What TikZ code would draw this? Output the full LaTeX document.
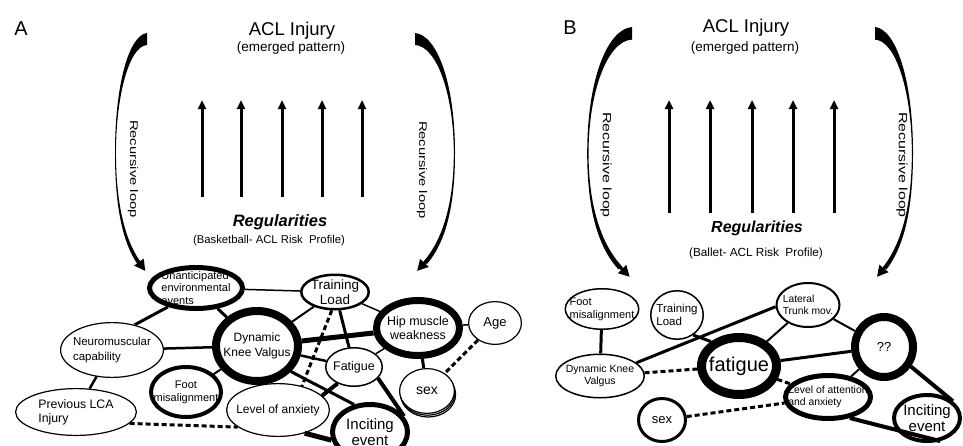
\documentclass[tikz,border=0pt]{standalone}
\usepackage{fontspec}
\setmainfont{Liberation Sans}
\usetikzlibrary{shapes.geometric,arrows.meta,shadows}

\tikzset{
    factor/.style={ellipse, draw, fill=white, inner sep=0pt},
    fs/.style 2 args={font=\fontsize{#1}{#2}\selectfont},
    link/.style={line width=#1},
    dlink/.style={line width=3pt, dash pattern=on 5pt off 3pt},
    rise/.style={line width=3pt, -{Triangle[length=9pt,width=8pt]}},
    looptext/.style={rotate=-90, yscale=0.75},
}

% bent arrow of the recursive loop, top end at (0,0)
\newcommand{\loopbow}{%
    \fill (0,0) .. controls (-22,2) and (-40,50) .. (-40,120)
        .. controls (-40,175) and (-30,210) .. (-12,231)
        -- (-9,228) .. controls (-27,207) and (-38.8,172) .. (-38.8,120)
        .. controls (-38.8,62) and (-22,13) .. (0,12) -- cycle;
    \draw [line width=3pt, -{Triangle[length=11pt,width=11pt]}] (-13,226) -- (-2,238);
}

\begin{document}
\begin{tikzpicture}[x=1pt, y=-1pt]
    \useasboundingbox (0,0) rectangle (963,445);

    % panel A
    \node [fs={20}{24}] (labA) at (21,29) {A};
    \node [fs={18.5}{22}] (injA) at (292,31) {ACL Injury};
    \node [fs={13.5}{16}] (emA) at (291,48) {(emerged pattern)};
    \node [fs={16.5}{20}] (regA) at (280,222) {\bfseries\itshape Regularities};
    \node [fs={11.3}{14}] (profA) at (269,241) {(Basketball- ACL Risk\ \ Profile)};
    \foreach \x [count=\i] in {202,241,282,322,362} {
        \coordinate (a\i) at (\x,197);
        \coordinate (b\i) at (\x,100);
        \draw [rise] (a\i) -- (b\i);
    }
    \begin{scope}[shift={(147,33)}, xscale=0.8] \loopbow \end{scope}
    \begin{scope}[shift={(415,33)}, xscale=-1] \loopbow \end{scope}
    \node [fs={14.8}{17}, looptext] (recAl) at (133,169) {Recursive loop};
    \node [fs={14.8}{17}, looptext] (recAr) at (422,170) {Recursive loop};

    \node [factor, minimum width=93, minimum height=41, line width=5pt,
        label={[fs={11}{12.5}, align=left]center:Unanticipated\\environmental\\events}] (unant) at (196,288) {};
    \node [factor, minimum width=67.5, minimum height=34.5, line width=2.5pt,
        label={[fs={13.5}{15}, align=center]center:Training\\Load}] (train) at (335,292) {};
    \node [factor, minimum width=83, minimum height=55, line width=7pt,
        label={[fs={12.5}{14}, align=center]center:Hip muscle\\weakness}] (hip) at (418,328) {};
    \node [factor, minimum width=52.8, minimum height=42.8, line width=1.2pt,
        label={[fs={13}{15}]center:Age}] (age) at (495,323) {};
    \node [factor, minimum width=102.8, minimum height=54.8, line width=1.2pt,
        label={[fs={11.5}{14.5}, align=left]center:Neuromuscular\\capability}] (neuro) at (112,350) {};
    \node [factor, minimum width=82, minimum height=70, line width=8pt,
        label={[fs={12}{15}, align=center]center:Dynamic\\Knee Valgus}] (dkv) at (257,346) {};
    \node [factor, minimum width=56.5, minimum height=38.5, line width=1.5pt,
        label={[fs={12.5}{14}]center:Fatigue}] (fat) at (354,367) {};
    \node [factor, minimum width=54.8, minimum height=44.8, line width=1.2pt,
        double copy shadow={shadow xshift=0.6pt, shadow yshift=-1.8pt},
        label={[fs={14}{16}]center:sex}] (sex) at (427,391) {};
    \node [factor, minimum width=70, minimum height=50, line width=4pt,
        label={[fs={11}{13.3}, align=center]center:Foot\\misalignment}] (foot) at (186,392) {};
    \node [factor, minimum width=120.8, minimum height=46.8, line width=1.2pt,
        label={[fs={12.3}{14}, align=left]center:Previous LCA\\Injury}] (prev) at (76,412) {};
    \node [factor, minimum width=102.8, minimum height=52.8, line width=1.2pt,
        label={[fs={12}{14}]center:Level of anxiety}] (anx) at (278,410) {};
    \node [factor, minimum width=75, minimum height=55, line width=5pt,
        label={[fs={15}{16}, align=center]center:Inciting\\event}] (inc) at (370,432) {};

    \draw [link=1.5pt] (unant) -- (train);
    \draw [link=3pt] (unant.-146) -- (neuro.48);
    \draw [link=3pt] (unant) -- (dkv);
    \draw [link=2pt] (train) -- (dkv);
    \draw [link=1.5pt] (train) -- (hip);
    \draw [link=3pt] (train) -- (fat);
    \draw [dlink] (train.-100) -- (anx.45);
    \draw [link=5pt] (dkv) -- (hip);
    \draw [link=2.5pt] (dkv) -- (neuro);
    \draw [link=2.5pt] (dkv) -- (fat);
    \draw [link=3pt] (dkv.-37) -- (inc.120);
    \draw [link=2pt] (dkv) -- (foot);
    \draw [link=1.5pt] (hip) -- (fat);
    \draw [link=1.5pt] (hip) -- (age);
    \draw [link=3pt] (hip) -- (sex);
    \draw [dlink] (age) -- (sex);
    \draw [link=4pt] (fat.-135) -- (anx.18);
    \draw [link=4pt] (fat.-25) -- (inc.25);
    \draw [link=2.5pt] (neuro) -- (prev);
    \draw [dlink] (prev.-12) -- (anx.-157);
    \draw [link=5pt] (anx.-41) -- (inc.-168);

    % panel B
    \node [fs={20}{24}] (labB) at (570,28) {B};
    \node [fs={18.5}{22}] (injB) at (746,28) {ACL Injury};
    \node [fs={13.5}{16}] (emB) at (745,48) {(emerged pattern)};
    \node [fs={16}{20}] (regB) at (757,228) {\bfseries\itshape Regularities};
    \node [fs={11.8}{14}] (profB) at (756,253) {(Ballet- ACL Risk\ \ Profile)};
    \foreach \x [count=\i] in {669,710,752,793,834} {
        \coordinate (c\i) at (\x,213);
        \coordinate (d\i) at (\x,100);
        \draw [rise] (c\i) -- (d\i);
    }
    \begin{scope}[shift={(632,27)}, xscale=1.12, yscale=1.05] \loopbow \end{scope}
    \begin{scope}[shift={(875,27)}, xscale=-0.95, yscale=1.05] \loopbow \end{scope}
    \node [fs={16}{18}, looptext] (recBl) at (606,165) {Recursive loop};
    \node [fs={16}{18}, looptext] (recBr) at (902,165) {Recursive loop};

    \node [factor, minimum width=73.5, minimum height=40.5, line width=1.5pt,
        label={[fs={11}{13.3}, align=left]center:Foot\\misalignment}] (foot2) at (602,309) {};
    \node [factor, minimum width=52.5, minimum height=48.5, line width=1.5pt,
        label={[fs={11.5}{13.3}, align=left]center:Training\\Load}] (train2) at (677,315) {};
    \node [factor, minimum width=63, minimum height=44, line width=2pt,
        label={[fs={10.3}{11.7}, align=left]center:Lateral\\Trunk mov.}] (lat) at (808,305) {};
    \node [factor, minimum width=58, minimum height=60, line width=8pt,
        label={[fs={13}{15}]center:??}] (qq) at (884,347) {};
    \node [factor, minimum width=88.5, minimum height=43.5, line width=1.5pt,
        label={[fs={10.5}{11.7}, align=center]center:Dynamic Knee\\Valgus}] (dkv2) at (600,376) {};
    \node [factor, minimum width=75, minimum height=57, line width=9pt,
        label={[fs={20}{24}]center:fatigue}] (fat2) at (739,366) {};
    \node [factor, minimum width=85, minimum height=43, line width=5pt,
        label={[fs={10.4}{11.7}, align=left]center:Level of attention\\and anxiety}] (lev) at (828,397) {};
    \node [factor, minimum width=47, minimum height=43, line width=3pt,
        label={[fs={13}{15}]center:sex}] (sex2) at (662,420) {};
    \node [factor, minimum width=66, minimum height=46, line width=4pt,
        label={[fs={15}{16.7}, align=center]center:Inciting\\event}] (inc2) at (927,418) {};

    \draw [link=3pt] (foot2) -- (dkv2);
    \draw [link=3pt] (dkv2.20) -- (lat.183);
    \draw [dlink] (dkv2) -- (fat2);
    \draw [link=3pt] (train2.-51) -- (fat2.139);
    \draw [link=2pt] (lat) -- (fat2);
    \draw [link=2pt] (lat) -- (qq);
    \draw [link=3pt] (fat2) -- (qq);
    \draw [dlink] (fat2) -- (lev);
    \draw [link=2pt] (qq) -- (lev);
    \draw [link=4pt] (qq.-36) -- (inc2.33);
    \draw [link=4pt] (lev.-44) -- (inc2.-60);
    \draw [dlink] (sex2) -- (lev);
\end{tikzpicture}
\end{document}
